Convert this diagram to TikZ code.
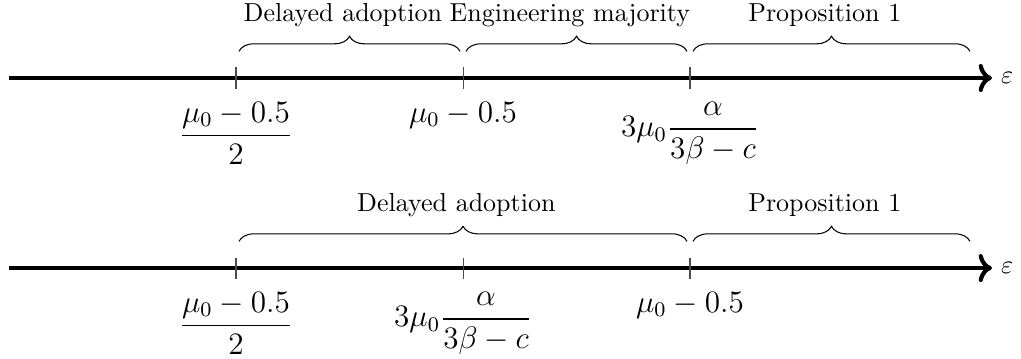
\documentclass[tikz,border=0pt]{standalone}
\usepackage{amsmath}
\usepackage{amssymb}
\usetikzlibrary{arrows.meta,positioning,calc,decorations.pathreplacing}
\tikzset{
  axisline/.style={line width=1.6pt,->},
  tickmark/.style={line width=0.4pt,black!70},
  brace/.style={decorate,decoration={brace,amplitude=5.8pt}},
  ticklbl/.style={font=\large,anchor=north,yshift=-0.06cm},
  spanlbl/.style={above=6pt,xshift=-0.09cm},
}

\begin{document}
\begin{tikzpicture}
  \useasboundingbox (0,0) rectangle (13.797,4.838);
  % two axes with three ticks each
  \foreach \rw/\y in {top/3.784,bot/1.216}{
    \coordinate (\rw-s) at (0.128,\y);
    \coordinate (\rw-e) at (13.405,\y);
    \node[right] (\rw-eps) at (\rw-e) {$\varepsilon$};
    \draw[axisline] (\rw-s) -- (\rw-e);
    \foreach \i/\x in {1/3.189,2/6.257,3/9.324}{
      \coordinate (\rw-u\i) at (\x,\y+0.142);
      \coordinate (\rw-d\i) at (\x,\y-0.142);
      \draw[tickmark] (\rw-u\i) -- (\rw-d\i);
    }
  }
  \node[ticklbl] (top-l1) at (top-d1) {$\dfrac{\mu_0-0.5}{2}$};
  \node[ticklbl] (top-l2) at (top-d2) {$\mu_0-0.5$};
  \node[ticklbl] (top-l3) at (top-d3) {$3\mu_0\dfrac{\alpha}{3\beta-c}$};
  \node[ticklbl] (bot-l1) at (bot-d1) {$\dfrac{\mu_0-0.5}{2}$};
  \node[ticklbl] (bot-l2) at (bot-d2) {$3\mu_0\dfrac{\alpha}{3\beta-c}$};
  \node[ticklbl] (bot-l3) at (bot-d3) {$\mu_0-0.5$};
  % braces over the ranges
  \foreach \a/\b/\txt [count=\k] in {3.229/6.217/Delayed adoption,6.297/9.284/Engineering majority,9.364/13.108/Proposition 1}{
    \coordinate (top-bs\k) at (\a,4.144);
    \coordinate (top-be\k) at (\b,4.144);
    \draw[brace] (top-bs\k) -- node[spanlbl] (top-n\k) {\txt} (top-be\k);
  }
  \foreach \a/\b/\txt [count=\k] in {3.229/9.284/Delayed adoption,9.364/13.108/Proposition 1}{
    \coordinate (bot-bs\k) at (\a,1.576);
    \coordinate (bot-be\k) at (\b,1.576);
    \draw[brace] (bot-bs\k) -- node[spanlbl] (bot-n\k) {\txt} (bot-be\k);
  }
\end{tikzpicture}
\end{document}
